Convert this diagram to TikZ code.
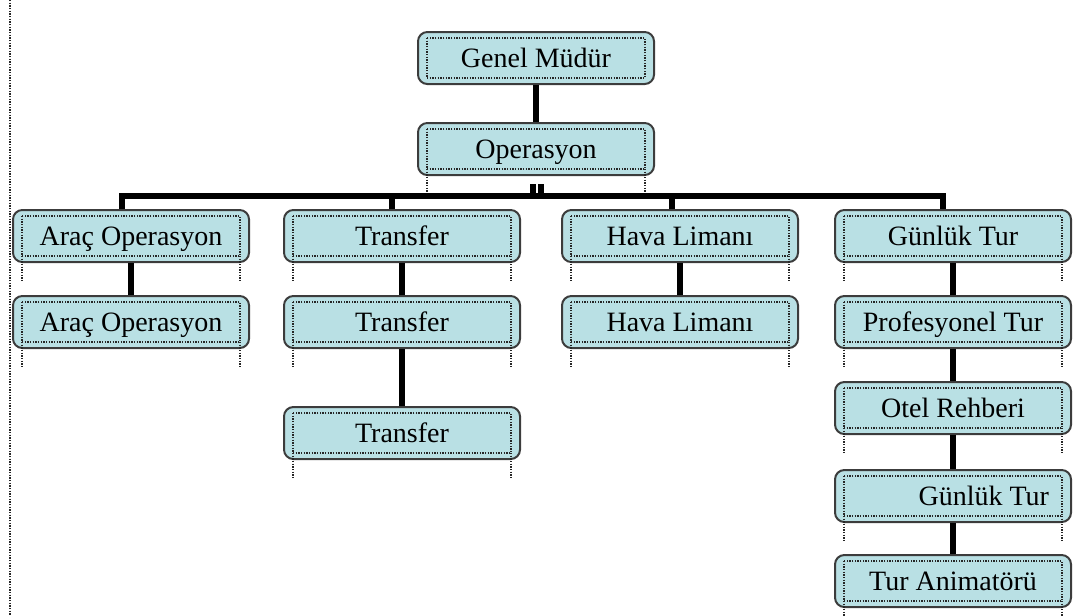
\documentclass[tikz,border=0pt]{standalone}
\usepackage{fontspec}
\setmainfont{Liberation Serif}
\usetikzlibrary{calc}

\definecolor{boxfill}{RGB}{185,224,228}
\definecolor{boxline}{RGB}{60,60,60}

\tikzset{
	unit/.style={draw=boxline, line width=1.5pt, fill=boxfill, rounded corners=7pt,
		minimum width=177pt, minimum height=39pt, inner sep=0pt,
		text height=16pt, text depth=2.5pt,
		font=\fontsize{21}{25}\selectfont},
	link/.style={line width=4pt},
	frame/.style={densely dotted, line width=1pt, black!85}
}

\begin{document}
\begin{tikzpicture}[x=0.75pt, y=-0.75pt]
	% Parameters (pixel grid, y downwards)
	\def\colA{131}
	\def\colB{402}
	\def\colC{680}
	\def\colD{953}
	\def\rowone{236}
	\def\rowtwo{322}
	\def\busy{196}

	\useasboundingbox (0,0) rectangle (1073,615);

	% Page margin guide
	\draw[frame] (10,0) -- (10,615);

	% Top
	\node[unit] (gm) at (536,58) {Genel Müdür};
	\node[unit] (op) at (536,149) {Operasyon};

	% First level
	\node[unit] (a1) at (\colA,\rowone) {Araç Operasyon};
	\node[unit] (b1) at (\colB,\rowone) {Transfer};
	\node[unit] (c1) at (\colC,\rowone) {Hava Limanı};
	\node[unit] (d1) at (\colD,\rowone) {Günlük Tur};

	% Second level and below
	\node[unit] (a2) at (\colA,\rowtwo) {Araç Operasyon};
	\node[unit] (b2) at (\colB,\rowtwo) {Transfer};
	\node[unit] (b3) at (\colB,433) {Transfer};
	\node[unit] (c2) at (\colC,\rowtwo) {Hava Limanı};
	\node[unit] (d2) at (\colD,\rowtwo) {Profesyonel Tur};
	\node[unit] (d3) at (\colD,408) {Otel Rehberi};
	\node[unit] (d4) at (\colD,496) {\hspace*{2.2em}Günlük Tur};
	\node[unit] (d5) at (\colD,581) {Tur Animatörü};

	% Dotted text frames
	\draw[frame] ($(gm.north west)+(10,7)$) rectangle ($(gm.south east)+(-10,-7)$);
	\foreach \n in {op,a1,b1,c1,d1,a2,b2,b3,c2,d2,d3,d4,d5} {
		\draw[frame] ($(\n.north west)+(10,7)$) rectangle ($(\n.south east)+(-10,-7)$);
		\draw[frame] ($(\n.south west)+(10,-7)$) -- ++(0,25);
		\draw[frame] ($(\n.south east)+(-10,-7)$) -- ++(0,25);
	}

	% Connectors
	\draw[link] (gm.south) -- (op.north);
	\coordinate (bus) at (536,\busy);
	\coordinate (a1top) at ($(a1.north)+(-9,0)$);
	\coordinate (b1top) at ($(b1.north)+(-10,0)$);
	\coordinate (c1top) at ($(c1.north)+(-8,0)$);
	\coordinate (d1top) at ($(d1.north)+(-10,0)$);
	\foreach \dx in {-3,5}
	\draw[link] ($(op.south)+(\dx,8)$) -- ($(bus)+(\dx,0)$);
	\draw[link] (a1top) -- (a1top |- bus) -- (d1top |- bus) -- (d1top);
	\draw[link] (b1top) -- (b1top |- bus);
	\draw[link] (c1top) -- (c1top |- bus);

	\draw[link] (a1.south) -- (a2.north);
	\draw[link] (b1.south) -- (b2.north);
	\draw[link] (b2.south) -- (b3.north);
	\draw[link] (c1.south) -- (c2.north);
	\foreach \u/\v in {d1/d2,d2/d3,d3/d4,d4/d5}
	\draw[link] (\u.south) -- (\v.north);

\end{tikzpicture}
\end{document}
